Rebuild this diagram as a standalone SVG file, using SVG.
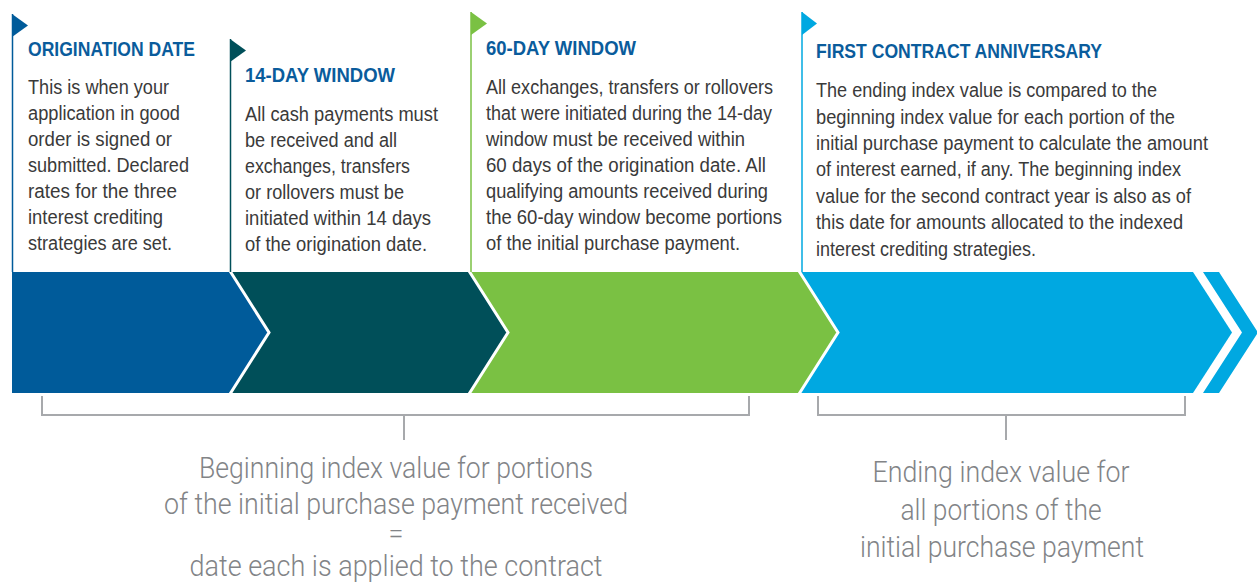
<svg xmlns="http://www.w3.org/2000/svg" width="1257" height="583" viewBox="0 0 1257 583">
<style>
.h{font-family:"Liberation Sans",Arial,sans-serif;font-weight:bold;font-size:20px;fill:#0a5c9c}
.b{font-family:"Liberation Sans",Arial,sans-serif;font-size:20px;fill:#3a3a3a}
.n{font-family:Roboto,"Liberation Sans",sans-serif;font-weight:300;font-size:30px;fill:#828487;text-anchor:middle}
.sep{fill:none;stroke:#fff;stroke-width:3}
.br{fill:none;stroke:#a7a9ac;stroke-width:2}
</style>
<rect width="1257" height="583" fill="#fff"/>
<g id="band">
<polygon points="799,272 1193,272 1232,332.5 1193,393 799,393" fill="#00a8e1"/>
<polygon points="1203,272 1219,272 1258,332.5 1219,393 1203,393 1242,332.5" fill="#00a8e1"/>
<polygon points="469,272 799,272 838,332.5 799,393 469,393" fill="#7ac143"/>
<polyline class="sep" points="799,271 838,332.5 799,394"/>
<polygon points="230,272 469,272 508,332.5 469,393 230,393" fill="#004f59"/>
<polyline class="sep" points="469,271 508,332.5 469,394"/>
<polygon points="12,272 230,272 269,332.5 230,393 12,393" fill="#005b9a"/>
<polyline class="sep" points="230,271 269,332.5 230,394"/>
</g>
<g id="origination">
<line x1="12.5" y1="14" x2="12.5" y2="272" stroke="#005b9a" stroke-width="1.5"/>
<polygon points="12,14 28,25.5 12,37" fill="#005b9a"/>
<text class="h" x="28" y="56" textLength="167" lengthAdjust="spacingAndGlyphs">ORIGINATION DATE</text>
<text class="b" x="28" y="94" textLength="141" lengthAdjust="spacingAndGlyphs">This is when your</text>
<text class="b" x="28" y="120" textLength="152" lengthAdjust="spacingAndGlyphs">application in good</text>
<text class="b" x="28" y="146" textLength="144" lengthAdjust="spacingAndGlyphs">order is signed or</text>
<text class="b" x="28" y="172" textLength="161" lengthAdjust="spacingAndGlyphs">submitted. Declared</text>
<text class="b" x="28" y="198" textLength="149" lengthAdjust="spacingAndGlyphs">rates for the three</text>
<text class="b" x="28" y="224" textLength="135" lengthAdjust="spacingAndGlyphs">interest crediting</text>
<text class="b" x="28" y="250" textLength="144" lengthAdjust="spacingAndGlyphs">strategies are set.</text>
</g>
<g id="day14">
<line x1="230.5" y1="39" x2="230.5" y2="272" stroke="#004f59" stroke-width="1.5"/>
<polygon points="230,39 246,50.5 230,62" fill="#004f59"/>
<text class="h" x="245" y="82" textLength="150" lengthAdjust="spacingAndGlyphs">14-DAY WINDOW</text>
<text class="b" x="245" y="121" textLength="193" lengthAdjust="spacingAndGlyphs">All cash payments must</text>
<text class="b" x="245" y="147" textLength="152" lengthAdjust="spacingAndGlyphs">be received and all</text>
<text class="b" x="245" y="173" textLength="165" lengthAdjust="spacingAndGlyphs">exchanges, transfers</text>
<text class="b" x="245" y="199" textLength="159" lengthAdjust="spacingAndGlyphs">or rollovers must be</text>
<text class="b" x="245" y="225" textLength="186" lengthAdjust="spacingAndGlyphs">initiated within 14 days</text>
<text class="b" x="245" y="251" textLength="182" lengthAdjust="spacingAndGlyphs">of the origination date.</text>
</g>
<g id="day60">
<line x1="471" y1="12" x2="471" y2="272" stroke="#7ac143" stroke-width="1.5"/>
<polygon points="471,12 487,23.5 471,35" fill="#7ac143"/>
<text class="h" x="486" y="55" textLength="150" lengthAdjust="spacingAndGlyphs">60-DAY WINDOW</text>
<text class="b" x="486" y="94" textLength="287" lengthAdjust="spacingAndGlyphs">All exchanges, transfers or rollovers</text>
<text class="b" x="486" y="120" textLength="286" lengthAdjust="spacingAndGlyphs">that were initiated during the 14-day</text>
<text class="b" x="486" y="146" textLength="259" lengthAdjust="spacingAndGlyphs">window must be received within</text>
<text class="b" x="486" y="172" textLength="280" lengthAdjust="spacingAndGlyphs">60 days of the origination date. All</text>
<text class="b" x="486" y="198" textLength="282" lengthAdjust="spacingAndGlyphs">qualifying amounts received during</text>
<text class="b" x="486" y="224" textLength="296" lengthAdjust="spacingAndGlyphs">the 60-day window become portions</text>
<text class="b" x="486" y="250" textLength="254" lengthAdjust="spacingAndGlyphs">of the initial purchase payment.</text>
</g>
<g id="anniversary">
<line x1="802" y1="12" x2="802" y2="272" stroke="#00a8e1" stroke-width="1.5"/>
<polygon points="802,12 817,23.5 802,35" fill="#00a8e1"/>
<text class="h" x="816" y="58" textLength="286" lengthAdjust="spacingAndGlyphs">FIRST CONTRACT ANNIVERSARY</text>
<text class="b" x="816" y="97" textLength="341" lengthAdjust="spacingAndGlyphs">The ending index value is compared to the</text>
<text class="b" x="816" y="124" textLength="359" lengthAdjust="spacingAndGlyphs">beginning index value for each portion of the</text>
<text class="b" x="816" y="150" textLength="392" lengthAdjust="spacingAndGlyphs">initial purchase payment to calculate the amount</text>
<text class="b" x="816" y="176" textLength="365" lengthAdjust="spacingAndGlyphs">of interest earned, if any. The beginning index</text>
<text class="b" x="816" y="203" textLength="375" lengthAdjust="spacingAndGlyphs">value for the second contract year is also as of</text>
<text class="b" x="816" y="229" textLength="367" lengthAdjust="spacingAndGlyphs">this date for amounts allocated to the indexed</text>
<text class="b" x="816" y="256" textLength="220" lengthAdjust="spacingAndGlyphs">interest crediting strategies.</text>
</g>
<g id="connectors">
<path class="br" d="M42,396 V415 H749 V396 M404,415 V440"/>
<path class="br" d="M818,396 V415 H1185 V396 M1006,415 V440"/>
</g>
<g id="beginning-note">
<text class="n" x="396" y="478" textLength="394" lengthAdjust="spacingAndGlyphs">Beginning index value for portions</text>
<text class="n" x="396" y="514" textLength="464" lengthAdjust="spacingAndGlyphs">of the initial purchase payment received</text>
<text class="n" x="396" y="543" style="font-size:27px">=</text>
<text class="n" x="396" y="576" textLength="413" lengthAdjust="spacingAndGlyphs">date each is applied to the contract</text>
</g>
<g id="ending-note">
<text class="n" x="1001" y="482" textLength="257" lengthAdjust="spacingAndGlyphs">Ending index value for</text>
<text class="n" x="1001" y="520" textLength="201" lengthAdjust="spacingAndGlyphs">all portions of the</text>
<text class="n" x="1002" y="557" textLength="284" lengthAdjust="spacingAndGlyphs">initial purchase payment</text>
</g>
</svg>
